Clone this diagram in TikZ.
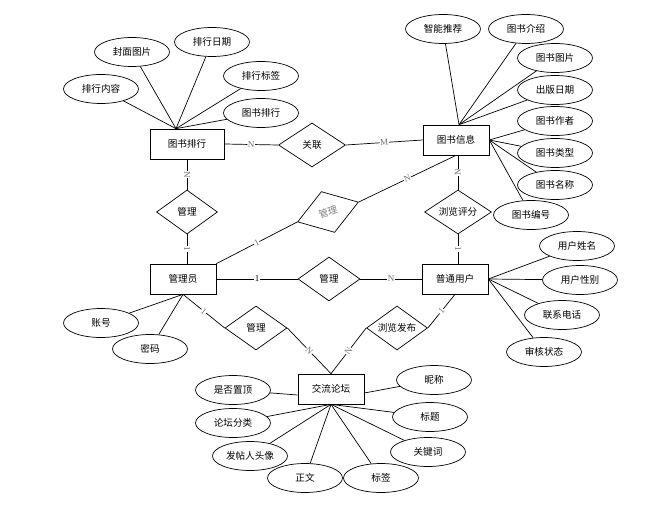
\documentclass[tikz,border=0pt]{standalone}
\usepackage{fontspec}
\setmainfont{Liberation Serif}
\newfontfamily\cjk{Noto Sans CJK SC}
\usetikzlibrary{shapes.geometric}

\begin{document}
\begin{tikzpicture}[
		x = 1pt, y = -1pt, % one unit = one pixel of the sheet
		line width = 0.7pt, % line style
		font=\cjk\fontsize{9.6}{11}\selectfont,
		entity/.style = {rectangle, draw, minimum width=66pt, minimum height=30pt, inner sep=0pt},
		attr/.style = {ellipse, draw, minimum width=75pt, minimum height=29pt, inner sep=0pt},
		rel/.style = {diamond, draw, aspect=1.5, minimum width=62pt, minimum height=44pt, inner sep=0pt},
		card/.style = {fill=white, inner sep=0.6pt, text=gray!90!black, sloped, font=\rmfamily\fontsize{9}{10}\selectfont}
		]
		
		\useasboundingbox (0,0) rectangle (655,513);
		
		% entities
		\node[entity, minimum width=74pt] (rank) at (187,144) {图书排行};
		\node[entity] (book) at (456,140) {图书信息};
		\node[entity] (admin) at (183,279) {管理员};
		\node[entity] (user) at (455,279) {普通用户};
		\node[entity] (forum) at (331,389) {交流论坛};
		
		% relations
		\node[rel, minimum width=67pt] (link) at (312,145) {关联};
		\node[rel, minimum width=61pt] (mRank) at (187,212) {管理};
		\node[rel, minimum width=64pt, minimum height=43pt, rotate=18, text=gray] (mBook) at (328,212) {管理};
		\node[rel, minimum width=67pt] (score) at (458,212) {浏览评分};
		\node[rel] (mUser) at (329,279) {管理};
		\node[rel] (mForum) at (256,328) {管理};
		\node[rel, minimum width=61pt] (post) at (397,328) {浏览发布};
		
		% attributes
		\node[attr] (rContent) at (101,89) {排行内容};
		\node[attr] (rCover) at (132,52) {封面图片};
		\node[attr] (rDate) at (212,42) {排行日期};
		\node[attr] (rTag) at (261,76) {排行标签};
		\node[attr] (rBook) at (261,113) {图书排行};
		
		\node[attr] (bSmart) at (443,29) {智能推荐};
		\node[attr] (bIntro) at (526,29) {图书介绍};
		\node[attr] (bPic) at (555,58) {图书图片};
		\node[attr] (bDate) at (555,90) {出版日期};
		\node[attr] (bAuthor) at (555,121) {图书作者};
		\node[attr] (bType) at (555,153) {图书类型};
		\node[attr] (bName) at (555,185) {图书名称};
		\node[attr] (bId) at (531,215) {图书编号};
		
		\node[attr] (uName) at (577,246) {用户姓名};
		\node[attr] (uSex) at (580,280) {用户性别};
		\node[attr] (uPhone) at (562,315) {联系电话};
		\node[attr] (uState) at (544,352) {审核状态};
		
		\node[attr] (aAcct) at (101,323) {账号};
		\node[attr] (aPwd) at (150,349) {密码};
		
		\node[attr] (fTop) at (233,390) {是否置顶};
		\node[attr] (fCat) at (233,423) {论坛分类};
		\node[attr] (fAvatar) at (250,456) {发帖人头像};
		\node[attr] (fBody) at (305,478) {正文};
		\node[attr] (fTag) at (381,478) {标签};
		\node[attr] (fKey) at (428,452) {关键词};
		\node[attr] (fTitle) at (430,417) {标题};
		\node[attr] (fNick) at (434,380) {昵称};
		
		\coordinate (rankTop) at ([xshift=-11pt]rank.north);
		\coordinate (bookTop) at ([xshift=3pt]book.north);
		
		% attribute lines
		\path
		(rankTop) edge (rContent) edge (rCover) edge (rDate) edge (rTag) edge (rBook)
		(bookTop) edge (bSmart) edge (bIntro) edge (bPic) edge (bDate)
		(book.east) edge (bAuthor) edge (bType) edge (bName) edge (bId)
		(user.east) edge (uName) edge (uSex) edge (uPhone) edge (uState)
		(admin.south) edge (aAcct) edge (aPwd)
		([yshift=-6pt]forum.west) edge (fTop)
		([yshift=-4pt]forum.east) edge (fNick)
		(forum.south) edge (fCat) edge (fAvatar) edge (fBody) edge (fTag) edge (fKey) edge (fTitle);
		
		% relation lines
		\path
		(rank.east) edge node[card] {N} (link.west)
		(link.east) edge node[card] {M} (book.west)
		(rank.south) edge node[card] {N} (mRank.north)
		(mRank.south) edge node[card] {1} (mRank.south |- admin.north)
		(admin.north east) edge node[card] {1} (mBook.west)
		(mBook.east) edge node[card] {N} (book.south)
		(score.north) edge node[card] {N} (score.north |- book.south)
		(score.south) edge node[card] {1} (score.south |- user.north)
		(admin.east) edge node[card, text=black] {1} (mUser.west)
		(mUser.east) edge node[card] {N} (user.west)
		(admin.south) edge node[card] {1} (mForum.west)
		(mForum.east) edge node[card] {N} (forum.north)
		(user.south) edge node[card] {1} (post.east)
		(post.west) edge node[card] {N} (forum.north);
	\end{tikzpicture}
\end{document}
